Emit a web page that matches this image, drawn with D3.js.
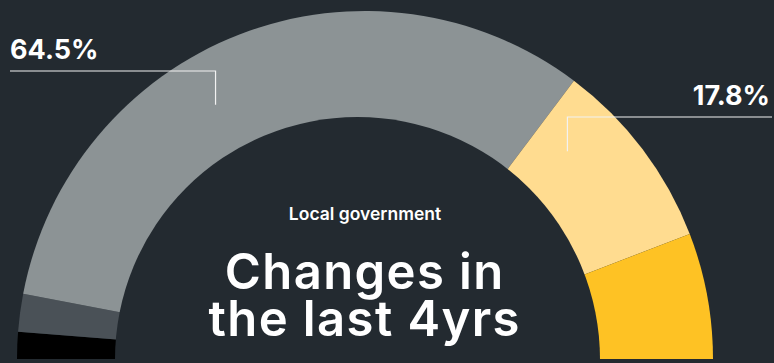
<!DOCTYPE html>
<html>
<head>
<meta charset="utf-8">
<script src="https://cdn.jsdelivr.net/npm/d3@7/dist/d3.min.js"></script>
<style>
  html, body { margin: 0; padding: 0; background: #232a30; }
  svg { display: block; }
  text { font-family: Inter, "Open Sans", sans-serif; fill: #ffffff; }
</style>
</head>
<body>
<svg id="chart" width="774" height="363"></svg>
<script>
// Share of each group (percent), drawn left to right along the half ring
const categories = ["Segment A", "Segment B", "Segment C", "Segment D", "Segment E"];
const values = [2.5, 3.5, 64.5, 17.8, 11.7];
const colors = ["#000000", "#4a5157", "#8c9395", "#ffdc90", "#fec224"];
// Which segments carry a callout label
const labelled = [false, false, true, true, false];

const subtitle = "Local government";
const titleLines = ["Changes in", "the last 4yrs"];

const W = 774, H = 363;
const cx = 365, cy = 359;
const outerR = 348;
// The hole is a circle nudged slightly left of the ring's centre
const hole = { x: 357.5, y: 359.5, r: 242.5 };
const bg = "#232a30";

const svg = d3.select("#chart");
svg.append("rect").attr("width", W).attr("height", H).attr("fill", bg);

const data = categories.map((c, i) => ({ name: c, value: values[i], color: colors[i], labelled: labelled[i] }));

const pie = d3.pie()
  .value(d => d.value)
  .sort(null)
  .startAngle(-Math.PI / 2)
  .endAngle(Math.PI / 2);

const arcs = pie(data);

const wedge = d3.arc().innerRadius(0).outerRadius(outerR);

const g = svg.append("g").attr("transform", `translate(${cx},${cy})`);
g.selectAll("path.seg")
  .data(arcs)
  .join("path")
  .attr("class", "seg")
  .attr("d", wedge)
  .attr("fill", d => d.data.color);

// cut out the hole of the ring
svg.append("circle")
  .attr("cx", hole.x).attr("cy", hole.y).attr("r", hole.r)
  .attr("fill", bg);

// Callouts: an elbow line from the label down into its segment
const fmt = d => d3.format(".1f")(d) + "%";
const callouts = [
  { idx: 2, frac: 0.42, r: 295, lineY: 71, side: "left", edge: 10 },
  { idx: 3, frac: 0.23, r: 290, lineY: 117, side: "right", edge: 772 }
];

callouts.forEach(c => {
  const a = arcs[c.idx];
  if (!a.data.labelled) return;
  const ang = a.startAngle + c.frac * (a.endAngle - a.startAngle);
  const ax = cx + c.r * Math.sin(ang);
  const ay = cy - c.r * Math.cos(ang);
  svg.append("path")
    .attr("d", `M${c.edge},${c.lineY}H${ax}V${ay}`)
    .attr("fill", "none")
    .attr("stroke", "#f2f2f2")
    .attr("stroke-width", 1.2);
  svg.append("text")
    .attr("x", c.side === "left" ? c.edge : c.edge - 2)
    .attr("y", c.lineY - 12)
    .attr("text-anchor", c.side === "left" ? "start" : "end")
    .attr("font-size", 27)
    .attr("font-weight", 700)
    .text(fmt(a.data.value));
});

// Centre titles
svg.append("text")
  .attr("x", 365).attr("y", 220)
  .attr("text-anchor", "middle")
  .attr("font-size", 17.5)
  .attr("font-weight", 600)
  .text(subtitle);

const ls = 1.4;
svg.selectAll("text.title")
  .data(titleLines)
  .join("text")
  .attr("class", "title")
  .attr("x", 364 + ls / 2)
  .attr("y", (d, i) => 289 + i * 47)
  .attr("text-anchor", "middle")
  .attr("font-size", 49)
  .attr("font-weight", 600)
  .attr("letter-spacing", ls)
  .text(d => d);
</script>
</body>
</html>
